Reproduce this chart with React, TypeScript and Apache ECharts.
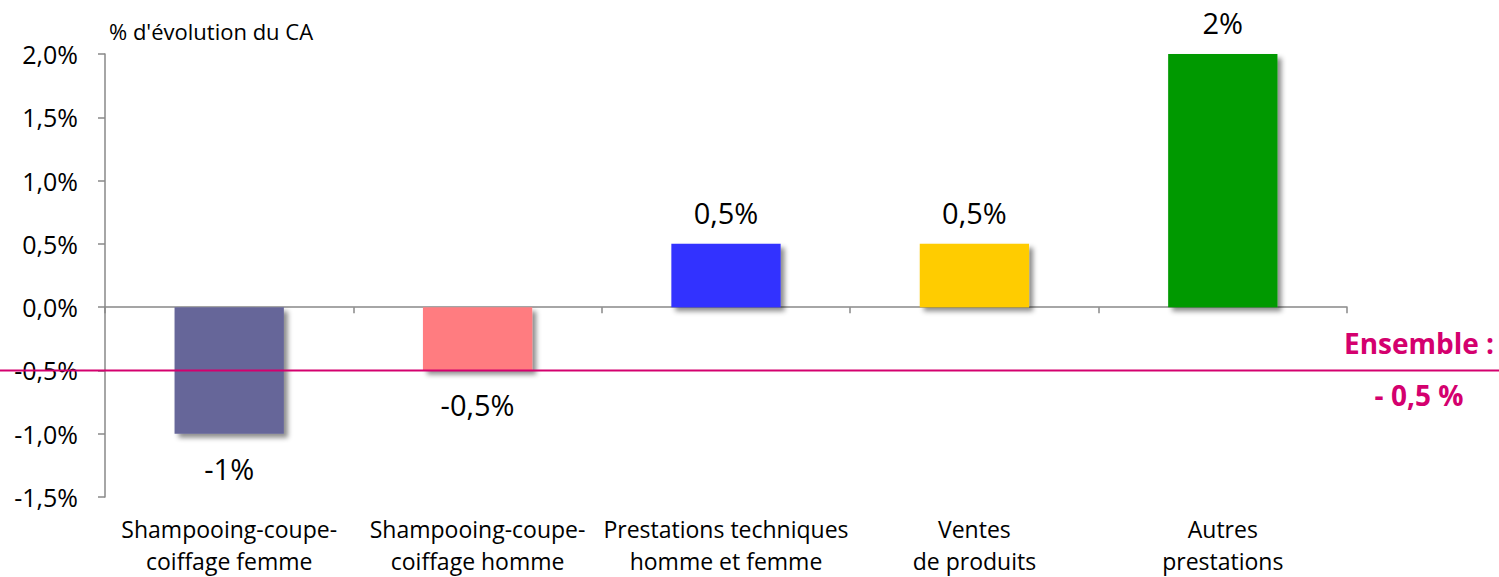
import React, { useEffect, useRef } from "react";
import * as echarts from "echarts";

const categories = [
  "Shampooing-coupe-\ncoiffage femme",
  "Shampooing-coupe-\ncoiffage homme",
  "Prestations techniques\nhomme et femme",
  "Ventes\nde produits",
  "Autres\nprestations",
];
const values = [-1, -0.5, 0.5, 0.5, 2];
const valueLabels = ["-1%", "-0,5%", "0,5%", "0,5%", "2%"];
const barColors = ["#666699", "#FF7C80", "#3333FF", "#FFCC00", "#009900"];
const ensembleValue = -0.5;
const ensembleLabels = ["Ensemble :", "- 0,5 %"];
const yTitle = "% d'évolution du CA";

const FONT = "'Open Sans', Lato, sans-serif";
const MAGENTA = "#D4006E";

export default function App() {
  const ref = useRef<HTMLDivElement>(null);
  useEffect(() => {
    if (!ref.current) return;
    const chart = echarts.init(ref.current, null, { renderer: "svg" });
    chart.setOption({
      animation: false,
      textStyle: { fontFamily: FONT },
      grid: { left: 105, right: 152, top: 54, bottom: 80, outerBoundsMode: "none", containLabel: false },
      xAxis: [
        {
          type: "category",
          data: categories,
          axisLine: { onZero: true, lineStyle: { color: "#888", width: 1.5 } },
          axisTick: { show: true, length: 6, lineStyle: { color: "#888", width: 1.5 } },
          axisLabel: { show: false },
        },
        {
          type: "category",
          data: categories,
          position: "bottom",
          axisLine: { show: false, onZero: false },
          axisTick: { show: false },
          axisLabel: {
            show: true,
            interval: 0,
            margin: 16,
            fontSize: 23,
            lineHeight: 32,
            color: "#000",
            fontFamily: FONT,
          },
        },
      ],
      yAxis: {
        type: "value",
        min: -1.5,
        max: 2,
        interval: 0.5,
        name: yTitle,
        nameLocation: "end",
        nameGap: 12,
        nameTextStyle: { fontSize: 22, color: "#000", align: "left", padding: [0, 0, 0, 4], fontFamily: FONT },
        axisLine: { show: true, lineStyle: { color: "#888", width: 1.5 } },
        axisTick: { show: true, length: 7, lineStyle: { color: "#888", width: 1.5 } },
        splitLine: { show: false },
        axisLabel: {
          fontSize: 25,
          color: "#000",
          margin: 27,
          fontFamily: FONT,
          formatter: (v: number) => v.toFixed(1).replace(".", ",") + "%",
        },
      },
      series: [
        {
          type: "bar",
          xAxisIndex: 0,
          barWidth: "44%",
          data: values.map((v, i) => ({
            value: v,
            itemStyle: {
              color: barColors[i],
              shadowBlur: 5,
              shadowColor: "rgba(0,0,0,0.45)",
              shadowOffsetX: 4,
              shadowOffsetY: 4,
            },
            label: {
              show: true,
              position: v < 0 ? "bottom" : "top",
              distance: v < 0 ? 20 : 17,
              formatter: valueLabels[i],
              fontSize: 29,
              color: "#000",
              fontFamily: FONT,
            },
          })),
        },
      ],
    });
    const y = chart.convertToPixel({ yAxisIndex: 0 }, ensembleValue) as number;
    const w = chart.getWidth();
    chart.setOption({
      graphic: [
        {
          type: "line",
          shape: { x1: 0, y1: y, x2: w, y2: y },
          style: { stroke: MAGENTA, lineWidth: 2 },
          z: 10,
        },
        {
          type: "text",
          x: 1419,
          y: y - 27,
          style: {
            text: ensembleLabels[0],
            fill: MAGENTA,
            font: `bold 28px ${FONT}`,
            textAlign: "center",
            textVerticalAlign: "middle",
          },
        },
        {
          type: "text",
          x: 1419,
          y: y + 25,
          style: {
            text: ensembleLabels[1],
            fill: MAGENTA,
            font: `bold 28px ${FONT}`,
            textAlign: "center",
            textVerticalAlign: "middle",
          },
        },
      ],
    });
    return () => chart.dispose();
  }, []);
  return (
    <div
      ref={ref}
      style={{ position: "absolute", left: 0, top: 0, width: 1499, height: 577, background: "#fff" }}
    />
  );
}
